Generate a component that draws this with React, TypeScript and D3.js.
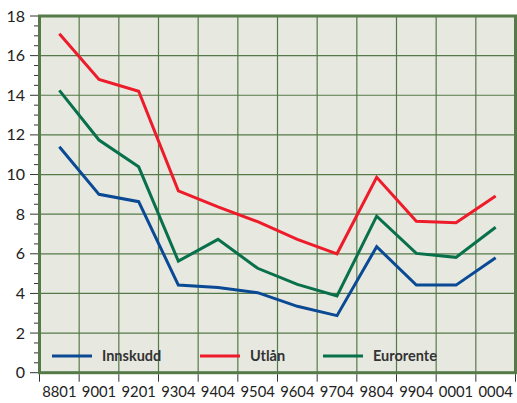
import React from "react";
import * as d3 from "d3";

const categories = ["8801", "9001", "9201", "9304", "9404", "9504", "9604", "9704", "9804", "9904", "0001", "0004"];
const innskudd = [11.4, 9.0, 8.63, 4.42, 4.3, 4.04, 3.35, 2.88, 6.36, 4.42, 4.42, 5.8];
const utlan = [17.1, 14.8, 14.2, 9.18, 8.37, 7.62, 6.73, 6.0, 9.86, 7.64, 7.57, 8.92];
const eurorente = [14.25, 11.74, 10.39, 5.63, 6.73, 5.27, 4.46, 3.87, 7.9, 6.02, 5.82, 7.34];
const yTicks = [0, 2, 4, 6, 8, 10, 12, 14, 16, 18];
const minorTicks = d3.range(0, 18.01, 0.5);

const series = [
  { name: "Innskudd", values: innskudd, color: "#0a4a94" },
  { name: "Utlån", values: utlan, color: "#ee1c2a" },
  { name: "Eurorente", values: eurorente, color: "#08704a" },
];

export default function App() {
  const W = 517, H = 403;
  const left = 39.5, right = 515.5, top = 16, bottom = 372.7;
  const x = d3.scaleBand().domain(categories).range([left, right]);
  const y = d3.scaleLinear().domain([0, 18]).range([bottom, top]);
  const gridColor = "#557a48";
  const font = "Lato, 'Open Sans', sans-serif";
  const line = d3
    .line<number>()
    .x((_, i) => (x(categories[i]) as number) + x.bandwidth() / 2)
    .y((d) => y(d));
  const legendX = [52, 200, 323];
  const legendY = 356;
  return (
    <svg width={W} height={H} style={{ position: "absolute", left: 0, top: 0 }}>
      <rect x={0} y={0} width={W} height={H} fill="#fff" />
      <rect x={left} y={top} width={right - left} height={bottom - top} fill="#e7e8e0" />
      {yTicks.slice(1, -1).map((t) => (
        <line key={"gy" + t} x1={left} x2={right} y1={y(t)} y2={y(t)} stroke={gridColor} strokeWidth={1.2} />
      ))}
      {categories.slice(1).map((c) => (
        <line key={"gx" + c} x1={x(c)} x2={x(c)} y1={top} y2={bottom} stroke={gridColor} strokeWidth={1.2} />
      ))}
      {series.map((s) => (
        <path key={s.name} d={line(s.values) || ""} fill="none" stroke={s.color} strokeWidth={3} strokeLinejoin="miter" />
      ))}
      {series.map((s, i) => (
        <g key={"lg" + s.name}>
          <line x1={legendX[i]} x2={legendX[i] + 40} y1={legendY} y2={legendY} stroke={s.color} strokeWidth={3} />
          <text x={legendX[i] + 50} y={legendY + 5} fontFamily={font} fontWeight="bold" fontSize={14.5} fill="#333">
            {s.name}
          </text>
        </g>
      ))}
      <rect x={left} y={top} width={right - left} height={bottom - top} fill="none" stroke="#557a48" strokeWidth={3} />
      {minorTicks.map((t) => (
        <line key={"mt" + t} x1={t % 2 === 0 ? 30 : 34} x2={left - 1.5} y1={y(t)} y2={y(t)} stroke="#333" strokeWidth={1} />
      ))}
      {yTicks.map((t) => (
        <text key={"yl" + t} x={25} y={y(t) + 5.5} textAnchor="end" fontFamily={font} fontSize={16} fill="#222">
          {t}
        </text>
      ))}
      {[...categories.map((c) => x(c) as number), right].map((px, i) => (
        <line key={"xt" + i} x1={px} x2={px} y1={bottom + 1.5} y2={bottom + 9} stroke="#333" strokeWidth={1} />
      ))}
      {categories.map((c) => (
        <text key={"xl" + c} x={(x(c) as number) + x.bandwidth() / 2} y={397} textAnchor="middle" fontFamily={font} fontSize={14.8} fill="#222">
          {c}
        </text>
      ))}
    </svg>
  );
}
